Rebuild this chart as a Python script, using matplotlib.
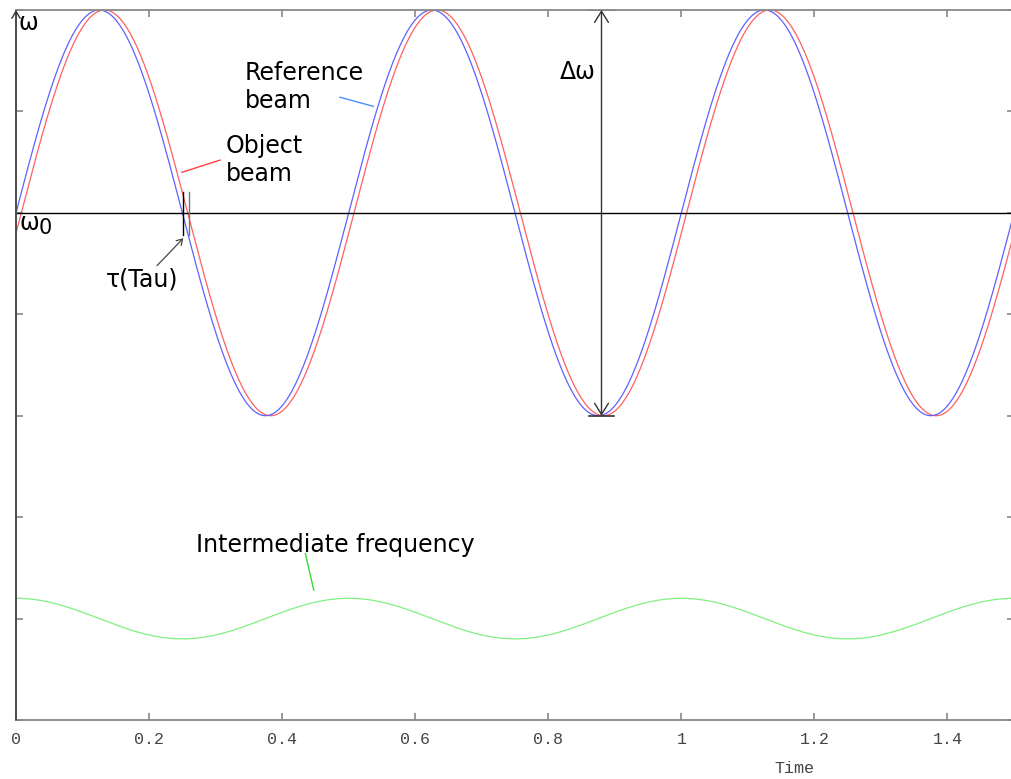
import numpy as np
import matplotlib.pyplot as plt

# beam parameters
period = 0.5        # oscillation period of the swept frequency
amp = 2.0           # half of the sweep, delta omega / 2
tau = 0.008         # delay of the object beam
if_level = -4.0     # baseline of the intermediate frequency trace
if_amp = 0.2

t = np.linspace(0, 1.5, 1500)
reference = amp * np.sin(2 * np.pi * t / period)
obj = amp * np.sin(2 * np.pi * (t - tau) / period)
intermediate = if_level + if_amp * np.cos(2 * np.pi * t / period)

xticks = [0, 0.2, 0.4, 0.6, 0.8, 1, 1.2, 1.4]
xticklabels = ["0", "0.2", "0.4", "0.6", "0.8", "1", "1.2", "1.4"]
yticks = [-5, -4, -3, -2, -1, 0, 1, 2]

fig = plt.figure(figsize=(10.12, 7.79), dpi=100)
ax = fig.add_axes([16 / 1012, 59 / 779, 998 / 1012, 710 / 779])

ax.plot(t, obj, color="#ff6060", lw=0.9)
ax.plot(t, reference, color="#6060ff", lw=0.9)
ax.plot(t, intermediate, color="#80f080", lw=0.9)
ax.axhline(0, color="black", lw=1.0)

ax.set_xlim(0, 1.5)
ax.set_ylim(-5, 2)
ax.set_xticks(xticks)
ax.set_xticklabels(xticklabels, family="Liberation Mono", fontsize=12, color="#444444")
ax.set_yticks(yticks)
ax.set_yticklabels([])
ax.tick_params(direction="in", length=5, width=1.2, color="#888888",
               top=True, right=True, pad=9)
for s in ax.spines.values():
    s.set_color("#888888")
    s.set_linewidth(1.3)

ax.text(0.78, -0.068, "Time", transform=ax.transAxes, ha="center", va="center",
        family="Liberation Mono", fontsize=12, color="#444444")

# omega axis arrow
ax.annotate("", xy=(0, 2), xytext=(0, -5),
            arrowprops=dict(arrowstyle="->,head_length=0.5,head_width=0.3",
                            color="#333333", lw=1.0, shrinkA=0, shrinkB=0))
ax.text(0.004, 1.87, "ω", fontsize=17, ha="left", va="center")
ax.text(0.005, -0.1, "ω", fontsize=17, ha="left", va="center")
ax.text(0.034, -0.15, "0", fontsize=15, ha="left", va="center")

# delta omega span
tx = 0.88
ax.annotate("", xy=(tx, 2), xytext=(tx, -2),
            arrowprops=dict(arrowstyle="<->,head_length=0.8,head_width=0.5",
                            color="#333333", lw=1.0, shrinkA=0, shrinkB=0))
ax.plot([tx - 0.019, tx + 0.019], [2, 2], color="#333333", lw=1.2)
ax.plot([tx - 0.019, tx + 0.019], [-2, -2], color="#333333", lw=1.2)
ax.text(0.8445, 1.39, "Δω", fontsize=17, ha="center", va="center")

# beam labels with leader lines
ax.text(0.344, 1.24, "Reference\nbeam", fontsize=17, ha="left", va="center",
        linespacing=1.25)
ax.plot([0.487, 0.537], [1.14, 1.05], color="#4a8cff", lw=1.0)

ax.text(0.3156, 0.52, "Object\nbeam", fontsize=17, ha="left", va="center",
        linespacing=1.25)
ax.plot([0.2494, 0.3066], [0.40, 0.52], color="#ff4040", lw=1.0)

ax.text(0.480, -3.275, "Intermediate frequency", fontsize=17, ha="center", va="center")
ax.plot([0.435, 0.4475], [-3.36, -3.72], color="#33dd33", lw=1.0)

# delay markers
ax.plot([0.2515, 0.2515], [0.21, -0.22], color="black", lw=1.0)
ax.plot([0.2595, 0.2595], [0.21, -0.22], color="#777777", lw=1.0)
ax.annotate("", xy=(0.2515, -0.25), xytext=(0.212, -0.52),
            arrowprops=dict(arrowstyle="->,head_length=0.4,head_width=0.25",
                            color="#444444", lw=0.9, shrinkA=0, shrinkB=0))
ax.text(0.189, -0.66, "τ(Tau)", fontsize=17, ha="center", va="center")

fig.savefig("out.png", dpi=100)
